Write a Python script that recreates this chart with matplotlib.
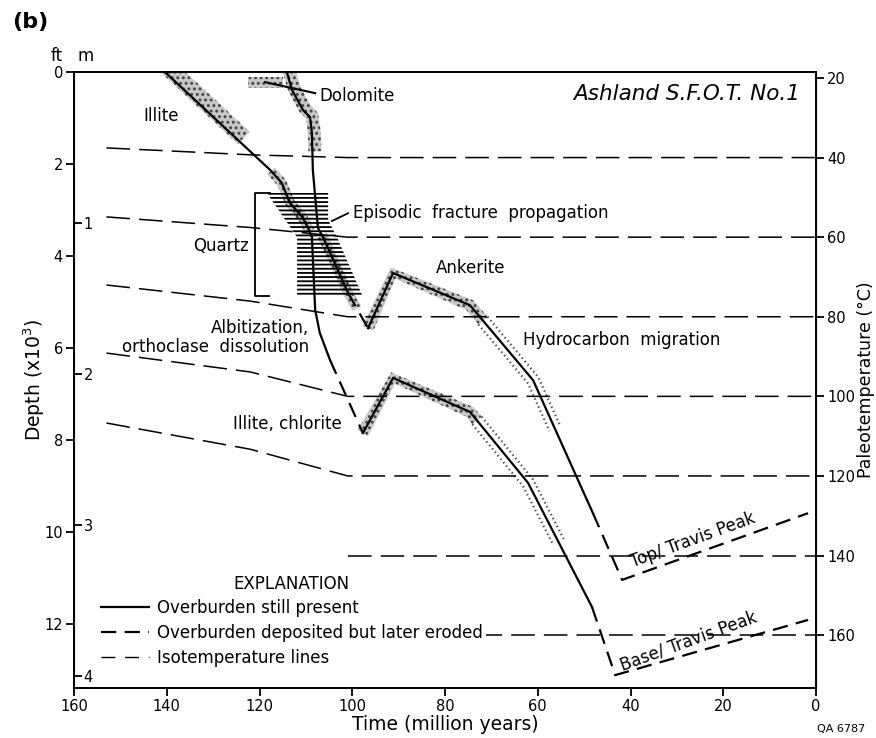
import numpy as np
import matplotlib.pyplot as plt
from matplotlib.patches import Polygon
from matplotlib.lines import Line2D

plt.rcParams['font.family'] = 'DejaVu Sans'
plt.rcParams['lines.scale_dashes'] = False
plt.rcParams['hatch.linewidth'] = 1.3

# burial curves: time (Ma) and depth (x1000 ft); eroded = dashed segment flags
top_t = [114.1, 113.0, 110.6, 109.1, 108.7, 108.5, 107.4, 106.3, 100.9, 96.6, 91.2,
         74.6, 61.0, 48.1, 41.8, 1.7]
top_d = [0.0, 0.39, 0.83, 0.98, 1.33, 2.13, 3.39, 3.59, 4.80, 5.57, 4.37,
         5.07, 6.70, 9.59, 11.04, 9.59]
top_eroded = [0, 0, 0, 0, 0, 0, 0, 0, 1, 0, 0, 0, 0, 1, 1]

base_t = [140.4, 117.7, 115.2, 113.4, 110.8, 109.5, 108.7, 108.0, 107.0, 104.8,
          97.7, 91.2, 74.6, 62.1, 48.3, 43.3, 1.7]
base_d = [0.0, 2.13, 2.41, 2.85, 3.15, 3.39, 3.59, 5.17, 5.67, 6.26,
          7.85, 6.65, 7.39, 8.93, 11.63, 13.11, 11.91]
base_eroded = [0, 0, 0, 0, 0, 0, 0, 0, 0, 1, 0, 0, 0, 0, 1, 1]

# isotemperature lines (deg C); early paleo-depths at 153 and 122 Ma
iso_temps = [40, 60, 80, 100, 120, 140, 160]
iso_d153 = [1.65, 3.15, 4.63, 6.11, 7.63]
iso_d122 = [1.80, 3.38, 4.98, 6.52, 8.20]
iso_times = [153, 122, 101, 0]

# diagenetic events (time window along each curve)
dense_bands = [('base', 140.4, 124.2, 14, 3),   # illite
               ('top', 114.1, 108.6, 9, 4),     # dolomite
               ('base', 117.5, 109.2, 5, 5),
               ('top', 106.5, 99.0, 5, 5),
               ('top', 96.6, 71.8, 6, 6),       # ankerite
               ('base', 97.7, 73.1, 6, 6)]
hc_bands = [('top', 71.8, 56.3), ('base', 73.1, 55.5)]   # hydrocarbon migration
dolomite_box_t = [122.5, 115.0]
dolomite_box_d = [0.10, 0.35]
quartz_t = [118.4, 111.9, 111.9, 97.7, 103.3, 105.2, 105.2]
quartz_d = [2.63, 3.59, 4.89, 4.89, 3.59, 3.22, 2.63]
quartz_range = [2.63, 4.87]


def temp_to_depth(T):
    return 0.13 + (np.asarray(T, float) - 20) / 11.56


def depth_to_temp(d):
    return 20 + (np.asarray(d, float) - 0.13) * 11.56


fig = plt.figure(figsize=(8.76, 7.38), dpi=100)
ax = fig.add_axes([74 / 876, 1 - 688 / 738, 742 / 876, 616 / 738])
ax.set_xlim(160, 0)
ax.set_ylim(13.39, 0)

curves = {'top': (top_t, top_d, top_eroded), 'base': (base_t, base_d, base_eroded)}


def sub_curve(name, t0, t1):
    t = np.asarray(curves[name][0])
    d = np.asarray(curves[name][1])
    keep = (t < t0) & (t > t1)
    tt = np.concatenate([[t0], t[keep], [t1]])
    dd = np.concatenate([[np.interp(-t0, -t, d)], d[keep], [np.interp(-t1, -t, d)]])
    return tt, dd


def offsets(tt, dd, wa, wb):
    pts = ax.transData.transform(np.column_stack([tt, dd]))
    seg = np.diff(pts, axis=0)
    seg /= np.hypot(seg[:, 0], seg[:, 1])[:, None]
    nrm = np.column_stack([-seg[:, 1], seg[:, 0]])
    vn = np.vstack([nrm[:1], nrm[:-1] + nrm[1:], nrm[-1:]])
    vn /= np.hypot(vn[:, 0], vn[:, 1])[:, None]
    inv = ax.transData.inverted()
    return inv.transform(pts + vn * wa), inv.transform(pts - vn * wb)


# stippled bands
stip = dict(closed=True, facecolor='0.78', hatch='...', edgecolor='0.25', lw=0, zorder=1)
for name, t0, t1, wa, wb in dense_bands:
    a, b = offsets(*sub_curve(name, t0, t1), wa, wb)
    ax.add_patch(Polygon(np.vstack([a, b[::-1]]), **stip))
ax.add_patch(Polygon(np.column_stack([[dolomite_box_t[0], dolomite_box_t[1], dolomite_box_t[1], dolomite_box_t[0]],
                                      [dolomite_box_d[0], dolomite_box_d[0], dolomite_box_d[1], dolomite_box_d[1]]]),
                     **stip))
for name, t0, t1 in hc_bands:
    a, b = offsets(*sub_curve(name, t0, t1), 6, 6)
    for side in (a, b):
        ax.plot(side[:, 0], side[:, 1], color='0.3', lw=1.6, ls=(0, (1, 2.2)), zorder=1)

# quartz hatching and bracket
ax.add_patch(Polygon(np.column_stack([quartz_t, quartz_d]), closed=True, fill=False,
                     hatch='----', edgecolor='k', lw=0, zorder=1))
ax.plot([117.7, 121.0, 121.0, 118.0], [quartz_range[0], quartz_range[0], quartz_range[1], quartz_range[1]],
        color='k', lw=1.3)

# isotemperature lines
iso_dash = (0, (17, 6.5))
for i, T in enumerate(iso_temps):
    dT = float(temp_to_depth(T))
    if i < len(iso_d153):
        ds = [iso_d153[i], iso_d122[i], dT, dT]
        ts = iso_times
    else:
        ds = [dT, dT]
        ts = iso_times[2:]
    ax.plot(ts, ds, color='k', lw=1.1, ls=iso_dash, zorder=2)

# burial curves
for t, d, er in curves.values():
    t = np.asarray(t)
    d = np.asarray(d)
    i = 0
    while i < len(er):
        j = i
        while j + 1 < len(er) and er[j + 1] == er[i]:
            j += 1
        style = (0, (11, 6)) if er[i] else '-'
        ax.plot(t[i:j + 2], d[i:j + 2], color='k', lw=1.6, ls=style, zorder=4)
        i = j + 1

# labels
fs = 12
ax.text(141.2, 0.96, 'Illite', fontsize=fs, ha='center', va='center')
ax.plot([118.8, 108.0], [0.22, 0.46], color='k', lw=1.5, zorder=4)
ax.text(107.0, 0.52, 'Dolomite', fontsize=fs, ha='left', va='center')
ax.text(3.5, 0.48, 'Ashland S.F.O.T. No.1', fontsize=15.5, style='italic', ha='right', va='center')
ax.text(122.3, 3.78, 'Quartz', fontsize=fs, ha='right', va='center')
ax.plot([104.4, 100.9], [3.24, 3.07], color='k', lw=1.3)
ax.text(99.8, 3.07, 'Episodic  fracture  propagation', fontsize=fs, ha='left', va='center')
ax.text(74.4, 4.26, 'Ankerite', fontsize=fs, ha='center', va='center')
ax.text(63.2, 5.83, 'Hydrocarbon  migration', fontsize=fs, ha='left', va='center')
ax.text(109.3, 5.77, 'Albitization,\northoclase  dissolution', fontsize=fs, ha='right',
        va='center', linespacing=1.05)
ax.text(125.7, 7.65, 'Illite, chlorite', fontsize=fs, ha='left', va='center')
ax.text(26.5, 10.18, 'Top/ Travis Peak', fontsize=fs, ha='center', va='center',
        rotation=20, rotation_mode='anchor')
ax.text(27.4, 12.38, 'Base/ Travis Peak', fontsize=fs, ha='center', va='center',
        rotation=20, rotation_mode='anchor')

# legend
handles = [Line2D([], [], color='k', lw=1.6),
           Line2D([], [], color='k', lw=1.6, ls=(0, (11, 6))),
           Line2D([], [], color='k', lw=1.0, ls=(0, (10, 7)))]
labels = ['Overburden still present', 'Overburden deposited but later eroded',
          'Isotemperature lines']
leg = ax.legend(handles, labels, title='EXPLANATION', loc='upper left',
                bbox_to_anchor=(0.02, 0.203), fontsize=fs, title_fontsize=fs,
                handlelength=2.9, handletextpad=0.5, labelspacing=0.4, borderpad=0.2,
                frameon=True, fancybox=False, framealpha=1, edgecolor='none')
leg.set_zorder(5)

# axes and ticks
tick_kw = dict(direction='out', length=6, width=1.3, labelsize=10.5)
for s in ax.spines.values():
    s.set_linewidth(1.4)
ax.set_xticks(range(0, 161, 20))
ax.set_yticks(range(0, 13, 2))
ax.tick_params(pad=2, **tick_kw)
ax.set_xlabel('Time (million years)', fontsize=13.5, labelpad=1)
ax.set_ylabel('Depth (x10$^3$)', fontsize=13.5, labelpad=-2)

sec_m = ax.secondary_yaxis(0.0, functions=(lambda d: d * 0.3048, lambda m: m / 0.3048))
sec_m.set_alignment('right')
sec_m.set_yticks([1, 2, 3, 4])
sec_m.tick_params(pad=1, **tick_kw)

sec_T = ax.secondary_yaxis('right', functions=(depth_to_temp, temp_to_depth))
sec_T.set_yticks(list(range(20, 161, 20)))
sec_T.tick_params(pad=2, **tick_kw)
sec_T.set_ylabel('Paleotemperature (°C)', fontsize=12.5, labelpad=1.5)

ax.text(-0.024, 1.026, 'ft', transform=ax.transAxes, fontsize=12, ha='center', va='center')
ax.text(0.015, 1.026, 'm', transform=ax.transAxes, fontsize=12, ha='center', va='center')
fig.text(0.034, 0.970, '(b)', fontsize=16, fontweight='bold', ha='center', va='center')
fig.text(0.988, 0.006, 'QA 6787', fontsize=8, ha='right', va='bottom')

fig.savefig('out.png', dpi=100)
